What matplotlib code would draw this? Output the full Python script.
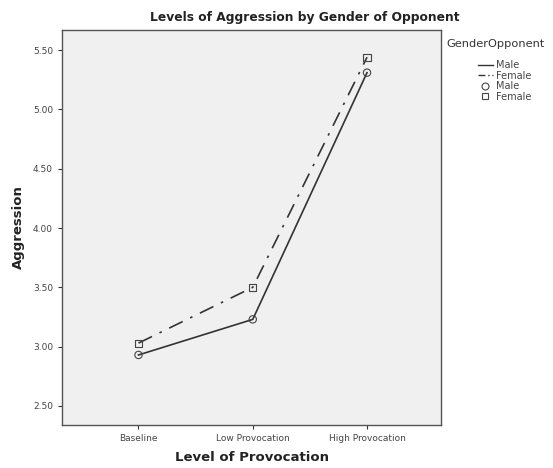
import numpy as np
import matplotlib.pyplot as plt
from matplotlib.lines import Line2D

levels = ["Baseline", "Low Provocation", "High Provocation"]
male = [2.93, 3.23, 5.31]
female = [3.03, 3.50, 5.44]
yticks = [2.50, 3.00, 3.50, 4.00, 4.50, 5.00, 5.50]

fig = plt.figure(figsize=(5.53, 4.68), dpi=100)
ax = fig.add_axes([0.112, 0.092, 0.686, 0.844])
ax.set_facecolor("#f0f0f0")

x = np.arange(len(levels))
ax.plot(x, male, color="#333333", lw=1.2, ls="-")
ax.plot(x, female, color="#333333", lw=1.2, ls=(0, (9, 5, 1.5, 5)))
ax.scatter(x, male, marker="o", s=28, facecolors="none", edgecolors="#444444", lw=0.8, zorder=3)
ax.scatter(x, female, marker="s", s=26, facecolors="none", edgecolors="#444444", lw=0.8, zorder=3)

ax.set_xlim(-0.67, 2.65)
ax.set_ylim(2.34, 5.67)
ax.set_xticks(x)
ax.set_xticklabels(levels, fontsize=6.5, color="#444444")
ax.set_yticks(yticks)
ax.set_yticklabels(["%.2f" % v for v in yticks], fontsize=6.5, color="#444444")
ax.tick_params(length=3, width=0.8, color="#333333")
for s in ax.spines.values():
    s.set_color("#555555")
    s.set_linewidth(1.0)

ax.set_xlabel("Level of Provocation", fontsize=9.5, fontweight="bold", color="#222222", labelpad=6)
ax.set_ylabel("Aggression", fontsize=9.5, fontweight="bold", color="#222222", labelpad=6)
fig.text(0.551, 0.962, "Levels of Aggression by Gender of Opponent", ha="center", va="center",
         fontsize=8.8, fontweight="bold", color="#222222")

# legend title sits to the left of the entries
fig.text(0.808, 0.906, "GenderOpponent", ha="left", va="center", fontsize=8.2, color="#333333")
handles = [
    Line2D([], [], color="#333333", lw=1.0, ls="-"),
    Line2D([], [], color="#333333", lw=1.0, ls=(0, (5, 2, 1, 2))),
    Line2D([], [], marker="o", ls="none", mfc="none", mec="#444444", ms=5, mew=0.8),
    Line2D([], [], marker="s", ls="none", mfc="none", mec="#444444", ms=5, mew=0.8),
]
leg = fig.legend(handles, ["Male", "Female", "Male", "Female"],
                 loc="upper left", bbox_to_anchor=(0.855, 0.882), frameon=False,
                 fontsize=7, handlelength=1.6, handletextpad=0.3,
                 labelspacing=0.05, borderpad=0.0)
for t in leg.get_texts():
    t.set_color("#444444")

plt.savefig("out.png", dpi=100)
